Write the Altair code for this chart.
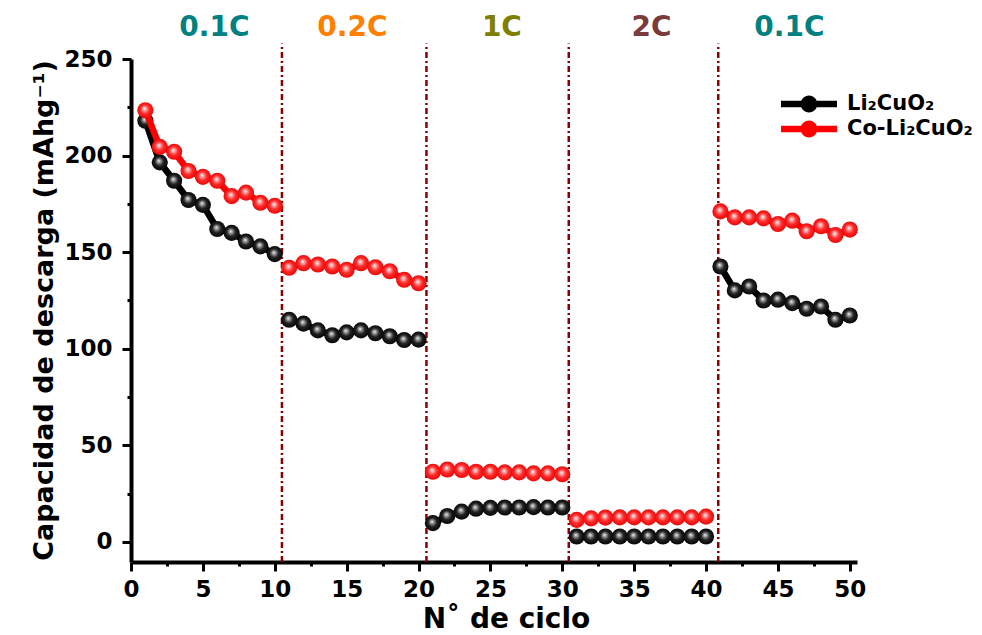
import altair as alt
import pandas as pd

# ---------------- data ----------------
cycles = list(range(1, 51))
li2cuo2 = [218, 196.5, 187, 177, 174.5, 162, 160, 155.5, 153, 149,
           115, 113, 109.5, 107, 108.5, 109.5, 108, 106.5, 104.5, 104.7,
           9.7, 13.4, 15.7, 17.2, 17.6, 17.8, 17.8, 18.0, 17.8, 17.8,
           2.8, 2.8, 2.8, 2.8, 2.8, 2.8, 2.8, 2.8, 2.8, 2.8,
           142.6, 130.2, 132.2, 125.0, 125.4, 123.6, 120.7, 121.9, 115.0, 117.2]
co_li2cuo2 = [223.5, 204.5, 202, 192, 189, 187, 179, 180.8, 175.6, 174,
              141.9, 144.3, 143.6, 142.6, 140.9, 144.3, 142.2, 140.1, 135.7, 133.9,
              36.3, 37.5, 37.2, 36.3, 36.3, 36.0, 36.0, 35.5, 35.5, 35.0,
              11.4, 12.2, 12.6, 12.7, 12.7, 12.7, 12.7, 12.7, 12.7, 13.1,
              171.1, 168.0, 168.0, 167.5, 164.6, 166.3, 160.8, 163.4, 158.9, 161.7]
series_names = ["Li₂CuO₂", "Co-Li₂CuO₂"]
series_colors = ["#000000", "#ff0000"]

rate_labels = ["0.1C", "0.2C", "1C", "2C", "0.1C"]
rate_label_x = [5.8, 15.4, 25.8, 36.2, 45.8]
rate_label_y = [266, 266, 266, 266, 266]
rate_colors = ["#008080", "#ff8000", "#808000", "#7b3b3b", "#008080"]

boundary_x = [10.5, 20.55, 30.45, 40.85]
boundary_y0 = -10.4
boundary_y1 = 258

x_major = [0, 5, 10, 15, 20, 25, 30, 35, 40, 45, 50]
x_minor = [2.5, 7.5, 12.5, 17.5, 22.5, 27.5, 32.5, 37.5, 42.5, 47.5]
y_major = [0, 50, 100, 150, 200, 250]
y_minor = [25, 75, 125, 175, 225]

# ---------------- tables ----------------
rows = []
for name, vals in zip(series_names, [li2cuo2, co_li2cuo2]):
    for c, v in zip(cycles, vals):
        rows.append({"cycle": c, "cap": v, "series": name, "seg": (c - 1) // 10})
df = pd.DataFrame(rows)
labels_df = pd.DataFrame({"x": rate_label_x, "y": rate_label_y,
                          "text": rate_labels, "col": rate_colors})
bounds_df = pd.DataFrame({"x": boundary_x, "y0": [boundary_y0] * len(boundary_x),
                          "y1": [boundary_y1] * len(boundary_x)})

FONT = "DejaVu Sans"
xs = alt.Scale(domain=[0, 50.5], nice=False, zero=False)
ys = alt.Scale(domain=[-10.4, 250], nice=False, zero=False)

main_x_axis = alt.Axis(values=x_major, orient="bottom", grid=False, tickSize=9, tickWidth=3,
                       tickColor="black", domainWidth=4, domainColor="black",
                       labelFont=FONT, labelFontSize=23, labelFontWeight="bold",
                       labelColor="black", labelPadding=7, labelFlush=False,
                       labelOverlap=False,
                       title="N˚ de ciclo", titleFont=FONT, titleFontSize=28,
                       titleFontWeight="bold", titleColor="black",
                       titleX=375, titleY=65, titleBaseline="alphabetic",
                       titleAlign="center")
main_y_axis = alt.Axis(values=y_major, orient="left", grid=False, tickSize=9, tickWidth=3,
                       tickColor="black", domainWidth=4, domainColor="black",
                       labelFont=FONT, labelFontSize=23, labelFontWeight="bold",
                       labelColor="black", labelPadding=10, labelFlush=False,
                       labelOverlap=False,
                       title="Capacidad de descarga (mAhg⁻¹)", titleFont=FONT,
                       titleFontSize=27, titleFontWeight="bold", titleColor="black",
                       titleX=-79, titleY=251, titleAngle=270,
                       titleBaseline="alphabetic", titleAlign="center")
minor_x_axis = alt.Axis(values=x_minor, orient="bottom", grid=False, tickSize=4, tickWidth=3,
                        tickColor="black", domain=False, labels=False, title=None)
minor_y_axis = alt.Axis(values=y_minor, orient="left", grid=False, tickSize=4, tickWidth=3,
                        tickColor="black", domain=False, labels=False, title=None)

base = alt.Chart(df)

axis_layer = base.mark_point(opacity=0).encode(
    x=alt.X("cycle:Q", scale=xs, axis=main_x_axis),
    y=alt.Y("cap:Q", scale=ys, axis=main_y_axis),
)
minor_layer = base.mark_point(opacity=0).encode(
    x=alt.X("cycle:Q", scale=xs, axis=minor_x_axis),
    y=alt.Y("cap:Q", scale=ys, axis=minor_y_axis),
)

rules = alt.Chart(bounds_df).mark_rule(color="#8b0000", strokeWidth=2.5,
                                       strokeDash=[6, 3, 2, 3]).encode(
    x=alt.X("x:Q", scale=xs, axis=None),
    y=alt.Y("y0:Q", scale=ys, axis=None),
    y2="y1:Q",
)

legend_path = ("M -2 -0.24 L -0.55 -0.24 L -0.55 0.24 L -2 0.24 Z "
               "M 0.55 -0.24 L 2 -0.24 L 2 0.24 L 0.55 0.24 Z "
               "M 0.6 0 A 0.6 0.6 0 1 1 -0.6 0 A 0.6 0.6 0 1 1 0.6 0 Z")

legend_layer = base.mark_point(filled=True, opacity=0, size=200, shape="circle").encode(
    x=alt.X("cycle:Q", scale=xs, axis=None),
    y=alt.Y("cap:Q", scale=ys, axis=None),
    color=alt.Color("series:N",
                    scale=alt.Scale(domain=series_names, range=series_colors),
                    legend=alt.Legend(title=None, orient="none", legendX=664, legendY=31,
                                      symbolType=legend_path, symbolSize=784,
                                      symbolStrokeWidth=0, symbolOffset=0,
                                      symbolOpacity=1, labelOffset=24,
                                      labelFont=FONT, labelFontSize=21,
                                      labelFontWeight="bold", labelColor="black",
                                      labelLimit=300, rowPadding=1, padding=0)),
)

def sphere(color_hi, color_mid, color_edge):
    return alt.RadialGradient(
        gradient="radial",
        stops=[alt.GradientStop(offset=0, color="#ffffff"),
               alt.GradientStop(offset=0.14, color=color_hi),
               alt.GradientStop(offset=0.5, color=color_mid),
               alt.GradientStop(offset=1, color=color_edge)],
        x1=0.44, y1=0.4, r1=0, x2=0.5, y2=0.5, r2=0.55)

layers = [rules, legend_layer]
grads = [sphere("#b0b0b0", "#222222", "#000000"), sphere("#ffb8b8", "#ff2a2a", "#e80000")]
for name, colr, grad in zip(series_names, series_colors, grads):
    sub = base.transform_filter(alt.datum.series == name)
    line = sub.mark_line(color=colr, strokeWidth=6.5).encode(
        x=alt.X("cycle:Q", scale=xs, axis=None),
        y=alt.Y("cap:Q", scale=ys, axis=None),
        detail="seg:N",
    )
    pts = sub.mark_circle(size=260, opacity=1, fill=grad, strokeWidth=0).encode(
        x=alt.X("cycle:Q", scale=xs, axis=None),
        y=alt.Y("cap:Q", scale=ys, axis=None),
    )
    layers += [line, pts]

text_layer = alt.Chart(labels_df).mark_text(font=FONT, fontSize=28, fontWeight="bold",
                                             baseline="middle", align="center").encode(
    x=alt.X("x:Q", scale=xs, axis=None),
    y=alt.Y("y:Q", scale=ys, axis=None),
    text="text:N",
    fill=alt.Fill("col:N", scale=None),
)
layers += [text_layer, axis_layer, minor_layer]

chart = alt.layer(*layers).resolve_axis(x="independent", y="independent").properties(
    width=726, height=503,
    autosize=alt.AutoSizeParams(type="none"),
    padding={"left": 123, "top": 51, "right": 117, "bottom": 75},
    background="white",
).configure_view(strokeWidth=0)

chart.save("out.html", embed_options={"renderer": "svg", "actions": False})
